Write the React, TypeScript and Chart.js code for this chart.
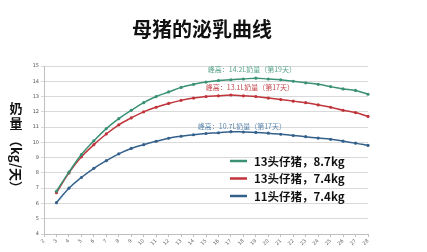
import React, { useEffect, useRef } from "react";
import { Chart, registerables } from "chart.js";

Chart.register(...registerables);

const days = ["2","3","4","5","6","7","8","9","10","11","12","13","14","15","16","17","18","19","20","21","22","23","24","25","26","27","28"];

const litter13Heavy = [null, 6.8, 8.05, 9.2, 10.1, 10.9, 11.55, 12.1, 12.6, 13.0, 13.3, 13.6, 13.8, 13.95, 14.05, 14.1, 14.15, 14.2, 14.15, 14.1, 14.0, 13.9, 13.8, 13.65, 13.5, 13.4, 13.15];
const litter13Light = [null, 6.7, 8.0, 9.05, 9.85, 10.55, 11.15, 11.6, 12.0, 12.3, 12.55, 12.75, 12.9, 13.0, 13.05, 13.1, 13.05, 13.0, 12.9, 12.8, 12.7, 12.6, 12.45, 12.3, 12.1, 11.95, 11.7];
const litter11Light = [null, 6.05, 7.0, 7.7, 8.3, 8.8, 9.25, 9.6, 9.85, 10.07, 10.27, 10.4, 10.5, 10.58, 10.63, 10.7, 10.68, 10.65, 10.6, 10.53, 10.45, 10.37, 10.28, 10.2, 10.08, 9.95, 9.8];

const seriesNames = ["13头仔猪，8.7kg", "13头仔猪，7.4kg", "11头仔猪，7.4kg"];
const peakLabels = ["峰高：14.2L奶量（第19天）", "峰高：13.1L奶量（第17天）", "峰高：10.7L奶量（第17天）"];
const lineColors = ["#3a9176", "#c0343b", "#34618c"];
const textColors = ["#5aa58c", "#c4484e", "#5b86ad"];

const CJK = '"Noto Sans CJK SC", "Noto Sans", sans-serif';

const overlayPlugin = {
  id: "overlay",
  afterDraw(chart: any) {
    const ctx = chart.ctx;
    const xs = chart.scales.x;
    const ys = chart.scales.y;
    ctx.save();
    // title
    ctx.fillStyle = "#111";
    ctx.font = `bold 20px ${CJK}`;
    ctx.textAlign = "center";
    ctx.textBaseline = "middle";
    ctx.fillText("母猪的泌乳曲线", 202, 29);

    // y axis title
    ctx.font = `bold 13px ${CJK}`;
    ctx.fillText("奶", 16, 108);
    ctx.fillText("量", 16, 123);
    ctx.save();
    ctx.translate(16, 164);
    ctx.rotate(Math.PI / 2);
    ctx.fillText("（kg/天）", 0, 0);
    ctx.restore();

    // peak annotations
    ctx.font = `7px ${CJK}`;
    const peaks = [
      { idx: 17, val: 14.2, dx: -4, dy: -9 },
      { idx: 15, val: 13.1, dx: 19, dy: -8 },
      { idx: 15, val: 10.7, dx: 11, dy: -5.5 },
    ];
    peaks.forEach((p, i) => {
      ctx.fillStyle = textColors[i];
      ctx.fillText(peakLabels[i], xs.getPixelForValue(p.idx) + p.dx, ys.getPixelForValue(p.val) + p.dy);
    });

    // legend
    const legendY = [161, 178.5, 196];
    ctx.textAlign = "left";
    ctx.font = `bold 11.5px ${CJK}`;
    legendY.forEach((y, i) => {
      ctx.strokeStyle = lineColors[i];
      ctx.lineWidth = 2.5;
      ctx.beginPath();
      ctx.moveTo(230, y);
      ctx.lineTo(247, y);
      ctx.stroke();
      ctx.fillStyle = "#111";
      ctx.fillText(seriesNames[i], 254, y + 0.5);
    });
    ctx.restore();
  },
};

export default function App() {
  const ref = useRef<HTMLCanvasElement | null>(null);
  useEffect(() => {
    if (!ref.current) return;
    const mk = (data: (number | null)[], i: number) => ({
      label: seriesNames[i],
      data,
      borderColor: lineColors[i],
      backgroundColor: lineColors[i],
      borderWidth: 1.5,
      pointRadius: 1.6,
      pointBorderWidth: 0,
      pointBackgroundColor: lineColors[i],
      tension: 0.4,
      spanGaps: false,
    });
    const chart = new Chart(ref.current, {
      type: "line",
      data: {
        labels: days,
        datasets: [mk(litter13Heavy, 0), mk(litter13Light, 1), mk(litter11Light, 2)],
      },
      options: {
        animation: false,
        responsive: false,
        devicePixelRatio: 1,
        layout: { padding: { left: 0, right: 59, top: 66, bottom: 0 } },
        plugins: {
          legend: { display: false },
          title: { display: false },
          tooltip: { enabled: false },
        },
        scales: {
          x: {
            offset: false,
            grid: { display: true, drawOnChartArea: false, tickLength: 3, color: "#bfbfbf" },
            border: { color: "#bfbfbf" },
            ticks: {
              autoSkip: false,
              minRotation: 45,
              maxRotation: 45,
              padding: 1,
              color: "#666",
              font: { size: 5, family: "DejaVu Sans" },
            },
            afterFit: (s: any) => { s.height = 18; },
          },
          y: {
            min: 4,
            max: 15,
            ticks: { stepSize: 1, color: "#555", padding: 2, font: { size: 5, family: "DejaVu Sans" } },
            grid: { color: "#d9d9d9", tickLength: 3 },
            border: { color: "#bfbfbf" },
            afterFit: (s: any) => { s.width = 44; },
          },
        },
      },
      plugins: [overlayPlugin],
    });
    return () => chart.destroy();
  }, []);
  return (
    <div style={{ position: "absolute", left: 0, top: 0, width: 427, height: 252, background: "#fff" }}>
      <canvas ref={ref} width={427} height={252} />
    </div>
  );
}
